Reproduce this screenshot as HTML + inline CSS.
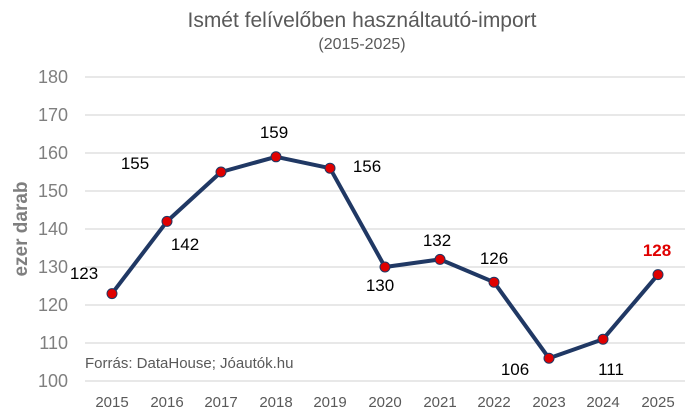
<!DOCTYPE html>
<html><head><meta charset="utf-8"><style>
html,body{margin:0;padding:0;background:#fff;}
svg{display:block;font-family:"Liberation Sans",sans-serif;}
</style></head><body>
<svg width="700" height="417" viewBox="0 0 700 417">
<text x="362" y="27" text-anchor="middle" font-size="21" fill="#595959">Ismét felívelőben használtautó-import</text>
<text x="362" y="49" text-anchor="middle" font-size="16" fill="#595959">(2015-2025)</text>
<g stroke="#d9d9d9" stroke-width="1.3">
<line x1="85" x2="685" y1="77" y2="77"/><line x1="85" x2="685" y1="115" y2="115"/>
<line x1="85" x2="685" y1="153" y2="153"/><line x1="85" x2="685" y1="191" y2="191"/>
<line x1="85" x2="685" y1="229" y2="229"/><line x1="85" x2="685" y1="267" y2="267"/>
<line x1="85" x2="685" y1="305" y2="305"/><line x1="85" x2="685" y1="343" y2="343"/>
<line x1="85" x2="685" y1="381" y2="381"/>
</g>
<g font-size="18" fill="#7f7f7f" text-anchor="end">
<text x="68" y="83">180</text><text x="68" y="121">170</text><text x="68" y="159">160</text>
<text x="68" y="197">150</text><text x="68" y="235">140</text><text x="68" y="273">130</text>
<text x="68" y="311">120</text><text x="68" y="349">110</text><text x="68" y="387">100</text>
</g>
<text transform="translate(27,229) rotate(-90)" text-anchor="middle" font-size="19" font-weight="bold" fill="#7f7f7f">ezer darab</text>
<g font-size="15" fill="#595959" text-anchor="middle">
<text x="112" y="407">2015</text><text x="167" y="407">2016</text><text x="221" y="407">2017</text>
<text x="276" y="407">2018</text><text x="330" y="407">2019</text><text x="385" y="407">2020</text>
<text x="440" y="407">2021</text><text x="494" y="407">2022</text><text x="549" y="407">2023</text>
<text x="603" y="407">2024</text><text x="658" y="407">2025</text>
</g>
<text x="85" y="368" font-size="15" fill="#595959">Forrás: DataHouse; Jóautók.hu</text>
<polyline fill="none" stroke="#203864" stroke-width="4" stroke-linejoin="round" points="112,293.6 167,221.4 221,172 276,156.8 330,168.2 385,267 440,259.4 494,282.2 549,358.2 603,339.2 658,274.6"/>
<g fill="#e00000" stroke="#203864" stroke-width="1">
<circle cx="112" cy="293.6" r="5"/><circle cx="167" cy="221.4" r="5"/><circle cx="221" cy="172" r="5"/>
<circle cx="276" cy="156.8" r="5"/><circle cx="330" cy="168.2" r="5"/><circle cx="385" cy="267" r="5"/>
<circle cx="440" cy="259.4" r="5"/><circle cx="494" cy="282.2" r="5"/><circle cx="549" cy="358.2" r="5"/>
<circle cx="603" cy="339.2" r="5"/><circle cx="658" cy="274.6" r="5"/>
</g>
<g font-size="17" fill="#000" text-anchor="middle">
<text x="84" y="279">123</text><text x="185" y="250">142</text><text x="135" y="169">155</text>
<text x="274" y="138">159</text><text x="367" y="172">156</text><text x="380" y="291">130</text>
<text x="437" y="246">132</text><text x="494" y="264">126</text><text x="515" y="375">106</text>
<text x="611" y="375">111</text>
</g>
<text x="657" y="256" text-anchor="middle" font-size="17" font-weight="bold" fill="#e00000">128</text>
</svg>
</body></html>
